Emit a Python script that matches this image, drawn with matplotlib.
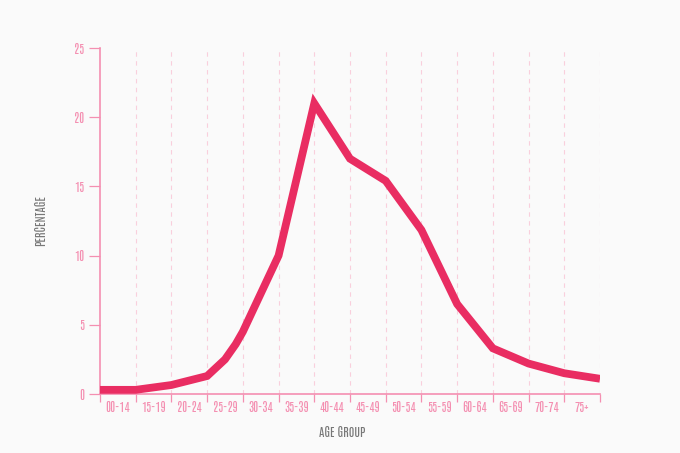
import matplotlib
matplotlib.use("Agg")
import matplotlib.pyplot as plt
from matplotlib import font_manager

age_groups = ["00-14", "15-19", "20-24", "25-29", "30-34", "35-39", "40-44",
              "45-49", "50-54", "55-59", "60-64", "65-69", "70-74", "75+"]
# line points sit on the band edges (plus read-off points inside 25-29)
edge_pos = [0, 1, 2, 3, 3.5, 3.8, 4, 5, 6, 7, 8, 9, 10, 11, 12, 13, 14]
percent = [0.3, 0.3, 0.65, 1.3, 2.5, 3.6, 4.5, 10.0, 21.0, 17.0, 15.4,
           11.85, 6.5, 3.3, 2.2, 1.5, 1.1]
y_ticks = [0, 5, 10, 15, 20, 25]

PINK = "#f48fb1"
LINE = "#e92d62"
GREY = "#777777"
BG = "#fafafa"

names = {f.name for f in font_manager.fontManager.ttflist}
font = next((f for f in ["Antonio", "Oswald", "Archivo Narrow"] if f in names),
            "DejaVu Sans")
plt.rcParams['font.family'] = [font, "DejaVu Sans"]

fig = plt.figure(figsize=(6.8, 4.53), dpi=100, facecolor=BG)
ax = fig.add_axes([100 / 680, 1 - 394 / 453, 500 / 680, 346 / 453], facecolor=BG)

for i in range(1, len(age_groups) + 1):
    ax.axvline(i, color="#f9cfdc", lw=0.8, ls=(0, (4, 4)), zorder=1)

ax.plot(edge_pos, percent, color=LINE, lw=5.6, solid_joinstyle="miter",
        solid_capstyle="butt", zorder=3)

ax.set_xlim(0, len(age_groups))
ax.set_ylim(0, 25)

ax.set_xticks(range(len(age_groups) + 1))
ax.set_xticklabels([])
ax.set_xticks([i + 0.5 for i in range(len(age_groups))], minor=True)
ax.set_xticklabels(age_groups, minor=True)
ax.tick_params(axis="x", which="major", length=6, width=0.9, color=PINK)
ax.tick_params(axis="x", which="minor", length=0, pad=5, labelsize=8.8,
               labelcolor=PINK)

ax.set_yticks(y_ticks)
ax.tick_params(axis="y", length=8, width=0.9, color=PINK, labelsize=8.8,
               labelcolor=PINK, pad=3)

for s in ["top", "right"]:
    ax.spines[s].set_visible(False)
for s in ["left", "bottom"]:
    ax.spines[s].set_color(PINK)
    ax.spines[s].set_linewidth(1.2)

fig.text(40 / 680, 1 - 221 / 453, "PERCENTAGE", rotation=90, color=GREY,
         fontsize=8.8, ha="center", va="center")
fig.text(342 / 680, 1 - 432 / 453, "AGE GROUP", color=GREY,
         fontsize=8.8, ha="center", va="center")

fig.savefig("out.png", dpi=100, facecolor=BG)
